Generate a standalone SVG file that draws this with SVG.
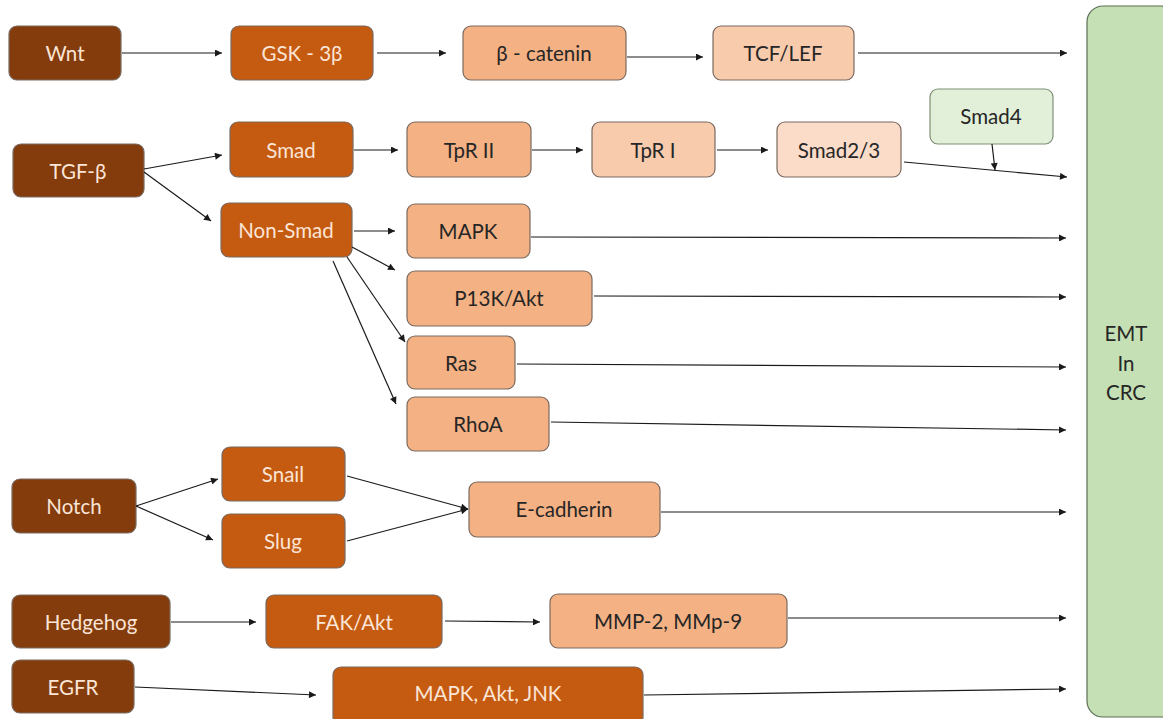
<svg xmlns="http://www.w3.org/2000/svg" width="1163" height="719" viewBox="0 0 1163 719">
<defs>
<marker id="ah" viewBox="0 0 10 10" refX="10" refY="5" markerWidth="8" markerHeight="7" markerUnits="userSpaceOnUse" orient="auto">
<path d="M0,0 L10,5 L0,10 z" fill="#1a1a1a"/>
</marker>
<style>
.n rect{stroke:#7a6a60;stroke-width:1.2}
.d1 rect{fill:#843C0C}
.d2 rect{fill:#C55A11}
.l1 rect{fill:#F4B183}
.l2 rect{fill:#F8CBAD}
.l3 rect{fill:#FBDCC8}
.g rect{fill:#E2F0D9;stroke:#7d8f76}
.n text{font-family:Lato,"Open Sans","Liberation Sans",sans-serif;font-size:20.5px;text-anchor:middle;dominant-baseline:central}
.d1 text,.d2 text{fill:#FBE5D6}
.l1 text,.l2 text,.l3 text,.g text,.emt text{fill:#262626}
.c line{stroke:#1a1a1a;stroke-width:1.2;marker-end:url(#ah)}
</style>
</defs>
<rect width="1163" height="719" fill="#ffffff"/>
<g id="emt" class="n emt">
<rect x="1087" y="6" width="90" height="711" rx="16" fill="#C5E0B4" style="stroke:#5e6e55"/>
<text x="1126" y="333">EMT</text>
<text x="1126" y="363">In</text>
<text x="1126" y="392">CRC</text>
</g>
<g id="wnt" class="n d1"><rect x="9" y="26" width="112" height="54" rx="8"/><text x="65" y="53">Wnt</text></g>
<g id="gsk" class="n d2"><rect x="231" y="26" width="142" height="54" rx="8"/><text x="302" y="53">GSK - 3β</text></g>
<g id="bcat" class="n l1"><rect x="463" y="26" width="163" height="54" rx="8"/><text x="544" y="53">β - catenin</text></g>
<g id="tcf" class="n l2"><rect x="713" y="26" width="141" height="54" rx="8"/><text x="783" y="53">TCF/LEF</text></g>
<g id="tgf" class="n d1"><rect x="13" y="144" width="131" height="53" rx="8"/><text x="78" y="171">TGF-β</text></g>
<g id="smad" class="n d2"><rect x="230" y="122" width="123" height="55" rx="8"/><text x="291" y="150">Smad</text></g>
<g id="tpr2" class="n l1"><rect x="407" y="122" width="124" height="55" rx="8"/><text x="469" y="150">TpR II</text></g>
<g id="tpr1" class="n l2"><rect x="592" y="122" width="123" height="55" rx="8"/><text x="653" y="150">TpR I</text></g>
<g id="smad23" class="n l3"><rect x="777" y="122" width="124" height="55" rx="8"/><text x="839" y="150">Smad2/3</text></g>
<g id="smad4" class="n g"><rect x="930" y="89" width="123" height="55" rx="8"/><text x="991" y="116">Smad4</text></g>
<g id="nonsmad" class="n d2"><rect x="221" y="203" width="131" height="54" rx="8"/><text x="286" y="230">Non-Smad</text></g>
<g id="mapk" class="n l1"><rect x="407" y="204" width="123" height="54" rx="8"/><text x="468" y="231">MAPK</text></g>
<g id="pi3k" class="n l1"><rect x="407" y="271" width="185" height="55" rx="8"/><text x="499" y="298">P13K/Akt</text></g>
<g id="ras" class="n l1"><rect x="407" y="336" width="108" height="53" rx="8"/><text x="461" y="363">Ras</text></g>
<g id="rhoa" class="n l1"><rect x="407" y="397" width="142" height="54" rx="8"/><text x="478" y="424">RhoA</text></g>
<g id="notch" class="n d1"><rect x="12" y="479" width="124" height="54" rx="8"/><text x="74" y="506">Notch</text></g>
<g id="snail" class="n d2"><rect x="222" y="447" width="123" height="54" rx="8"/><text x="283" y="474">Snail</text></g>
<g id="slug" class="n d2"><rect x="222" y="514" width="123" height="54" rx="8"/><text x="283" y="541">Slug</text></g>
<g id="ecad" class="n l1"><rect x="469" y="482" width="191" height="55" rx="8"/><text x="564" y="509">E-cadherin</text></g>
<g id="hedgehog" class="n d1"><rect x="12" y="595" width="158" height="53" rx="8"/><text x="91" y="622">Hedgehog</text></g>
<g id="fak" class="n d2"><rect x="266" y="595" width="176" height="53" rx="8"/><text x="354" y="622">FAK/Akt</text></g>
<g id="mmp" class="n l1"><rect x="550" y="594" width="237" height="54" rx="8"/><text x="668" y="621">MMP-2, MMp-9</text></g>
<g id="egfr" class="n d1"><rect x="12" y="660" width="122" height="53" rx="8"/><text x="73" y="687">EGFR</text></g>
<g id="mapkaktjnk" class="n d2"><rect x="333" y="667" width="310" height="58" rx="8"/><text x="488" y="693">MAPK, Akt, JNK</text></g>
<g id="connectors" class="c">
<line x1="122" y1="53" x2="222" y2="53"/>
<line x1="377" y1="53" x2="446" y2="53"/>
<line x1="627" y1="57" x2="703" y2="57"/>
<line x1="858" y1="53" x2="1067" y2="53"/>
<line x1="144" y1="169" x2="222" y2="155"/>
<line x1="144" y1="172" x2="211" y2="221"/>
<line x1="354" y1="150" x2="398" y2="150"/>
<line x1="532" y1="150" x2="583" y2="150"/>
<line x1="717" y1="150" x2="768" y2="150"/>
<line x1="904" y1="162" x2="1067" y2="177"/>
<line x1="992" y1="144" x2="995" y2="170"/>
<line x1="354" y1="231" x2="395" y2="231"/>
<line x1="352" y1="247" x2="395" y2="270"/>
<line x1="347" y1="257" x2="405" y2="342"/>
<line x1="333" y1="261" x2="396" y2="404"/>
<line x1="531" y1="237" x2="1066" y2="238"/>
<line x1="594" y1="296" x2="1066" y2="297"/>
<line x1="517" y1="364" x2="1066" y2="367"/>
<line x1="551" y1="422" x2="1066" y2="430"/>
<line x1="136" y1="506" x2="218" y2="479"/>
<line x1="136" y1="506" x2="213" y2="540"/>
<line x1="347" y1="476" x2="468" y2="509"/>
<line x1="347" y1="541" x2="468" y2="509"/>
<line x1="661" y1="512" x2="1066" y2="512"/>
<line x1="171" y1="622" x2="256" y2="622"/>
<line x1="445" y1="621" x2="540" y2="622"/>
<line x1="788" y1="618" x2="1066" y2="618"/>
<line x1="135" y1="687" x2="316" y2="695"/>
<line x1="644" y1="695" x2="1066" y2="689"/>
</g>
</svg>
